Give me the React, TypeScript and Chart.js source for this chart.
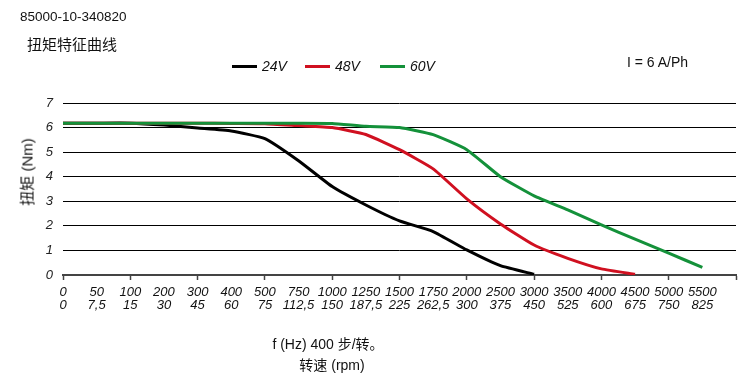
import React, { useEffect, useRef } from "react";
import { Chart, registerables } from "chart.js";

Chart.register(...registerables);

const freqHz = ["0", "50", "100", "200", "300", "400", "500", "750", "1000", "1250", "1500", "1750", "2000", "2500", "3000", "3500", "4000", "4500", "5000", "5500"];
const rpmLabels = ["0", "7,5", "15", "30", "45", "60", "75", "112,5", "150", "187,5", "225", "262,5", "300", "375", "450", "525", "600", "675", "750", "825"];

const torque24 = [6.18, 6.18, 6.18, 6.1, 5.98, 5.86, 5.55, 4.65, 3.6, 2.85, 2.2, 1.77, 1.02, 0.38, 0.03];
const torque48 = [6.18, 6.18, 6.18, 6.18, 6.18, 6.17, 6.16, 6.08, 6.0, 5.72, 5.1, 4.32, 3.1, 2.08, 1.22, 0.68, 0.25, 0.03];
const torque60 = [6.18, 6.18, 6.18, 6.18, 6.18, 6.18, 6.18, 6.18, 6.17, 6.05, 6.0, 5.71, 5.1, 4.0, 3.22, 2.65, 2.04, 1.46, 0.89, 0.31];

const seriesNames = ["24V", "48V", "60V"];
const seriesColors = ["#000000", "#d01020", "#14913a"];
const seriesValues = [torque24, torque48, torque60];

const yTicks = [0, 1, 2, 3, 4, 5, 6, 7];

const tickFont = { family: "'Liberation Sans Narrow', 'Arial Narrow', 'Liberation Sans', sans-serif", size: 13, style: "italic" as const };

export default function App() {
  const ref = useRef<HTMLCanvasElement | null>(null);

  useEffect(() => {
    if (!ref.current) return;
    const chart = new Chart(ref.current, {
      type: "line",
      data: {
        datasets: seriesValues.map((vals, si) => ({
          label: seriesNames[si],
          data: vals.map((v, i) => ({ x: i, y: v })),
          borderColor: seriesColors[si],
          backgroundColor: seriesColors[si],
          borderWidth: 3,
          pointRadius: 0,
          tension: 0.15,
          fill: false,
          order: seriesValues.length - 1 - si,
        })),
      },
      options: {
        animation: false,
        responsive: false,
        maintainAspectRatio: false,
        layout: { padding: { left: 0, right: 14, top: 103, bottom: 0 } },
        plugins: { legend: { display: false }, tooltip: { enabled: false }, title: { display: false } },
        scales: {
          x: {
            type: "linear",
            min: 0,
            max: 20,
            afterFit: (s: any) => { s.height = 111; },
            border: { display: true, color: "#444", width: 2 },
            grid: {
              drawOnChartArea: false,
              drawTicks: true,
              tickLength: 5,
              tickColor: (ctx: any) => (ctx.tick && ctx.tick.value % 2 === 0 ? "#444" : "rgba(0,0,0,0)"),
              tickWidth: 1.5,
            },
            ticks: {
              stepSize: 1,
              autoSkip: false,
              maxRotation: 0,
              minRotation: 0,
              padding: 6,
              color: "#111",
              font: { ...tickFont, lineHeight: 1.0 },
              callback: (value: any) => {
                const i = Number(value);
                return i < freqHz.length ? [freqHz[i], rpmLabels[i]] : "";
              },
            },
          },
          y: {
            type: "linear",
            min: 0,
            max: 7,
            afterFit: (s: any) => { s.width = 63; },
            afterBuildTicks: (s: any) => { s.ticks = yTicks.map((v) => ({ value: v })); },
            border: { display: false },
            grid: { color: "#000", lineWidth: 1, drawTicks: false },
            ticks: { padding: 10, color: "#222", font: tickFont },
          },
        },
      },
    });
    return () => chart.destroy();
  }, []);

  const sans = "'Liberation Sans', Arial, sans-serif";
  const cjk = "'Liberation Sans', 'Noto Sans CJK SC', sans-serif";
  const legendX = [232, 305, 380];

  return (
    <div style={{ position: "absolute", left: 0, top: 0, width: 750, height: 386, background: "#fff", overflow: "hidden" }}>
      <canvas ref={ref} width={750} height={386} style={{ position: "absolute", left: 0, top: 0, width: 750, height: 386 }} />
      <div style={{ position: "absolute", left: 20, top: 9, font: `13.5px ${sans}`, color: "#111", whiteSpace: "nowrap" }}>85000-10-340820</div>
      <div style={{ position: "absolute", left: 27, top: 33, font: `15px ${cjk}`, color: "#111", whiteSpace: "nowrap" }}>扭矩特征曲线</div>
      {seriesNames.map((n, i) => (
        <div key={n} style={{ position: "absolute", left: legendX[i], top: 56, height: 20, display: "flex", alignItems: "center", whiteSpace: "nowrap" }}>
          <span style={{ display: "inline-block", width: 25, height: 3, background: seriesColors[i] }} />
          <span style={{ marginLeft: 5, font: `italic 14px ${tickFont.family}`, color: "#111" }}>{n}</span>
        </div>
      ))}
      <div style={{ position: "absolute", left: 627, top: 54, font: `14px ${sans}`, color: "#111", whiteSpace: "nowrap" }}>I = 6 A/Ph</div>
      <div style={{ position: "absolute", left: 26, top: 172, transform: "translate(-50%, -50%) rotate(-90deg)", font: `15px ${cjk}`, color: "#111", whiteSpace: "nowrap" }}>扭矩 (Nm)</div>
      <div style={{ position: "absolute", left: 328, top: 333, transform: "translateX(-50%)", font: `14px ${cjk}`, color: "#111", whiteSpace: "nowrap" }}>f (Hz) 400 步/转。</div>
      <div style={{ position: "absolute", left: 332, top: 354, transform: "translateX(-50%)", font: `14px ${cjk}`, color: "#111", whiteSpace: "nowrap" }}>转速 (rpm)</div>
    </div>
  );
}
